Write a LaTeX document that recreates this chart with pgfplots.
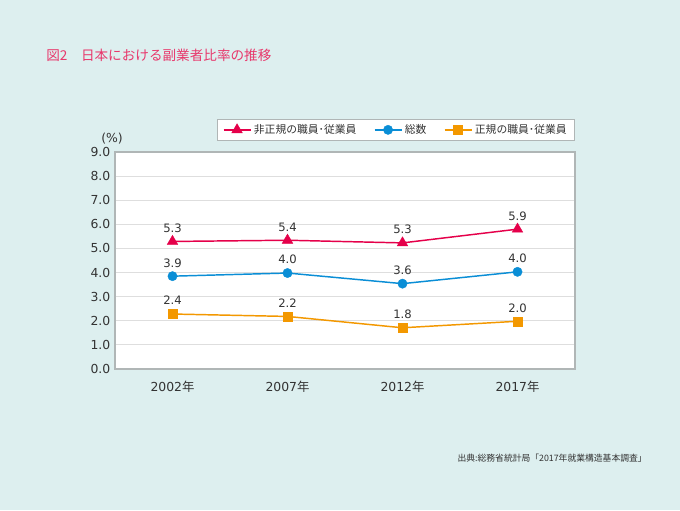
\documentclass[border=0pt]{standalone}
\usepackage{fontspec}
\setmainfont{DejaVu Sans}
\newfontfamily\cjk{Noto Sans CJK JP}
\usepackage{pgfplots}
\usepackage{pgfplotstable}
\pgfplotsset{compat=1.18}
\definecolor{bg}{HTML}{DDEFEF}
\definecolor{titlered}{HTML}{E8386C}
\definecolor{lred}{HTML}{E5004A}
\definecolor{lblue}{HTML}{0A8ED6}
\definecolor{lorange}{HTML}{F39800}
\definecolor{gridgray}{HTML}{DEDEDE}
\definecolor{axisgray}{HTML}{B0B6B6}
\definecolor{textgray}{HTML}{333333}

\pgfplotstableread{
x y label
0 5.29 5.3
1 5.34 5.4
2 5.23 5.3
3 5.80 5.9
}\nonregular
\pgfplotstableread{
x y label
0 3.85 3.9
1 3.98 4.0
2 3.54 3.6
3 4.03 4.0
}\total
\pgfplotstableread{
x y label
0 2.28 2.4
1 2.18 2.2
2 1.71 1.8
3 1.98 2.0
}\regular

\begin{document}
\begin{tikzpicture}
\fill[bg] (0,0) rectangle (510pt,382.5pt);
\node[anchor=west, text=titlered, font=\cjk\fontsize{10.2pt}{12pt}\selectfont, inner sep=0pt] at (34.5pt,341.25pt) {図2\hspace{1em}日本における副業者比率の推移};
\node[anchor=east, text=textgray, font=\cjk\fontsize{6.6pt}{8pt}\selectfont, inner sep=0pt] at (485.25pt,39pt) {出典:総務省統計局「2017年就業構造基本調査」};
\begin{axis}[
  at={(86.25pt,105.75pt)}, anchor=south west,
  scale only axis, width=345pt, height=162.75pt,
  xmin=-0.5, xmax=3.5, ymin=0, ymax=9,
  xtick={0,1,2,3},
  xticklabels={2002{\cjk 年},2007{\cjk 年},2012{\cjk 年},2017{\cjk 年}},
  ytick={0,1,2,3,4,5,6,7,8,9},
  /pgf/number format/assume math mode=true,
  yticklabel={\pgfmathprintnumber[fixed,fixed zerofill,precision=1]{\tick}},
  ymajorgrids, grid style={draw=gridgray, line width=0.6pt},
  axis line style={draw=axisgray, line width=0.8pt},
  major tick length=0pt,
  tick label style={font=\fontsize{9.3pt}{11pt}\selectfont, text=textgray},
  x tick label style={yshift=-5.5pt},
  axis background/.style={fill=white},
  clip=false,
  every node near coord/.append style={anchor=center, yshift=10pt, font=\fontsize{8.7pt}{10pt}\selectfont, text=textgray},
  legend columns=3,
  legend style={at={(1,1)}, anchor=south east, yshift=8.25pt, draw=axisgray, fill=white,
    font=\cjk\fontsize{8.1pt}{10pt}\selectfont, text=textgray, inner xsep=4pt, inner ysep=2pt,
    /tikz/every even column/.append style={column sep=11pt}},
  legend image code/.code={\draw[mark repeat=2,mark phase=2] plot coordinates {(0cm,0cm)(0.355cm,0cm)(0.71cm,0cm)};},
]
\addplot[color=lred, line width=1.1pt, mark=triangle*, mark size=4.6pt, mark options={solid, line width=0.3pt},
  point meta=explicit symbolic, nodes near coords] table[x=x, y=y, meta=label] {\nonregular};
\addlegendentry{非正規の職員･従業員}
\addplot[color=lblue, line width=1.1pt, mark=*, mark size=3.5pt, mark options={solid, line width=0.3pt},
  point meta=explicit symbolic, nodes near coords] table[x=x, y=y, meta=label] {\total};
\addlegendentry{総数}
\addplot[color=lorange, line width=1.1pt, mark=square*, mark size=3.4pt, mark options={solid, line width=0.3pt},
  point meta=explicit symbolic, nodes near coords] table[x=x, y=y, meta=label] {\regular};
\addlegendentry{正規の職員･従業員}
\node[anchor=center, font=\fontsize{9.3pt}{11pt}\selectfont, text=textgray] at (rel axis cs:0,1) [xshift=-2.25pt, yshift=9.75pt] {(\%)};
\end{axis}
\pgfresetboundingbox
\path[use as bounding box] (0,0) rectangle (510pt,382.5pt);
\end{tikzpicture}
\end{document}
